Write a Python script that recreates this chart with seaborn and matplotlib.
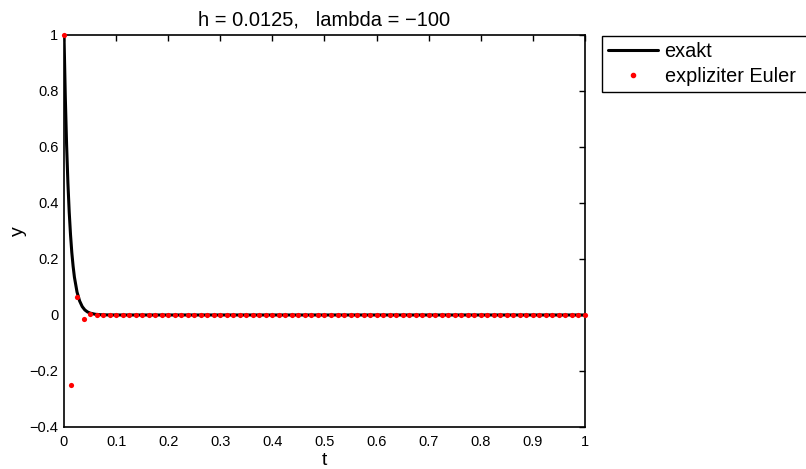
import matplotlib
matplotlib.use('Agg')
import matplotlib.pyplot as plt
import seaborn as sns
import pandas as pd
from matplotlib.lines import Line2D

# exact solution y(t) = exp(lambda*t)
t_exact = [0.0, 0.0025, 0.005, 0.0075, 0.01, 0.0125, 0.015, 0.0175, 0.02, 0.025,
           0.03, 0.035, 0.04, 0.045, 0.05, 0.06, 0.07, 0.08, 0.1, 1.0]
y_exact = [1.0, 0.779, 0.607, 0.472, 0.368, 0.287, 0.223, 0.174, 0.135, 0.082,
           0.050, 0.030, 0.018, 0.011, 0.0067, 0.0025, 0.0009, 0.0003, 0.0, 0.0]

# explicit Euler points, step h = 0.0125
t_euler = [0.0, 0.0125, 0.025, 0.0375, 0.05, 0.0625, 0.075, 0.0875, 0.1, 0.1125,
           0.125, 0.1375, 0.15, 0.1625, 0.175, 0.1875, 0.2, 0.2125, 0.225, 0.2375,
           0.25, 0.2625, 0.275, 0.2875, 0.3, 0.3125, 0.325, 0.3375, 0.35, 0.3625,
           0.375, 0.3875, 0.4, 0.4125, 0.425, 0.4375, 0.45, 0.4625, 0.475, 0.4875,
           0.5, 0.5125, 0.525, 0.5375, 0.55, 0.5625, 0.575, 0.5875, 0.6, 0.6125,
           0.625, 0.6375, 0.65, 0.6625, 0.675, 0.6875, 0.7, 0.7125, 0.725, 0.7375,
           0.75, 0.7625, 0.775, 0.7875, 0.8, 0.8125, 0.825, 0.8375, 0.85, 0.8625,
           0.875, 0.8875, 0.9, 0.9125, 0.925, 0.9375, 0.95, 0.9625, 0.975, 0.9875,
           1.0]
y_euler = [1.0, -0.25, 0.0625, -0.0156, 0.0039, -0.001, 0.0002, 0.0, 0.0, 0.0,
           0.0, 0.0, 0.0, 0.0, 0.0, 0.0, 0.0, 0.0, 0.0, 0.0,
           0.0, 0.0, 0.0, 0.0, 0.0, 0.0, 0.0, 0.0, 0.0, 0.0,
           0.0, 0.0, 0.0, 0.0, 0.0, 0.0, 0.0, 0.0, 0.0, 0.0,
           0.0, 0.0, 0.0, 0.0, 0.0, 0.0, 0.0, 0.0, 0.0, 0.0,
           0.0, 0.0, 0.0, 0.0, 0.0, 0.0, 0.0, 0.0, 0.0, 0.0,
           0.0, 0.0, 0.0, 0.0, 0.0, 0.0, 0.0, 0.0, 0.0, 0.0,
           0.0, 0.0, 0.0, 0.0, 0.0, 0.0, 0.0, 0.0, 0.0, 0.0,
           0.0]

x_ticks = [0, 0.1, 0.2, 0.3, 0.4, 0.5, 0.6, 0.7, 0.8, 0.9, 1]
y_ticks = [-0.4, -0.2, 0, 0.2, 0.4, 0.6, 0.8, 1]

sns.set_style('white')
plt.rcParams['font.family'] = ['Liberation Sans', 'DejaVu Sans']
plt.rcParams['text.color'] = 'black'
plt.rcParams['axes.labelcolor'] = 'black'

exact_df = pd.DataFrame({'t': t_exact, 'y': y_exact})
euler_df = pd.DataFrame({'t': t_euler, 'y': y_euler})

fig = plt.figure(figsize=(8.06, 4.69), dpi=100)
ax = fig.add_axes([0.0794, 0.0896, 0.6464, 0.8358])

sns.lineplot(data=exact_df, x='t', y='y', ax=ax, color='black', linewidth=2.2,
             sort=False, estimator=None, zorder=2)
sns.scatterplot(data=euler_df, x='t', y='y', ax=ax, color='red', s=14,
                linewidth=0, zorder=3, clip_on=False)

ax.set_xlim(0, 1)
ax.set_ylim(-0.4, 1)
ax.set_xticks(x_ticks)
ax.set_yticks(y_ticks)
ax.set_xticklabels([f'{v:g}' for v in x_ticks])
ax.set_yticklabels([f'{v:g}'.replace('-', '\u2212') for v in y_ticks])
ax.tick_params(direction='in', length=4, width=1, top=True, right=True,
               labelsize=10.5, pad=4, colors='black')
ax.tick_params(axis='x', pad=6)
for s in ax.spines.values():
    s.set_visible(True)
    s.set_color('black')
    s.set_linewidth(1.2)

ax.set_xlabel('t', fontsize=14, labelpad=2)
ax.set_ylabel('y', fontsize=14, labelpad=2)
ax.set_title('h = 0.0125,   lambda = \u2212100', fontsize=14.5, pad=7)

# legend sits outside the axes and runs off the right edge, as in the original
handles = [Line2D([], [], color='black', linewidth=2.2),
           Line2D([], [], color='red', marker='o', markersize=3, linestyle='none')]
leg = ax.legend(handles, ['exakt', 'expliziter Euler'], loc='upper left',
                bbox_to_anchor=(1.0326, 0.0, 0.42, 0.998), mode='expand',
                borderaxespad=0, fancybox=False,
                fontsize=14.3, handlelength=2.5, handletextpad=0.35,
                borderpad=0.3, labelspacing=0.3, framealpha=1)
leg.get_frame().set_edgecolor('black')
leg.get_frame().set_linewidth(1.0)

fig.savefig('out.png', dpi=100)
